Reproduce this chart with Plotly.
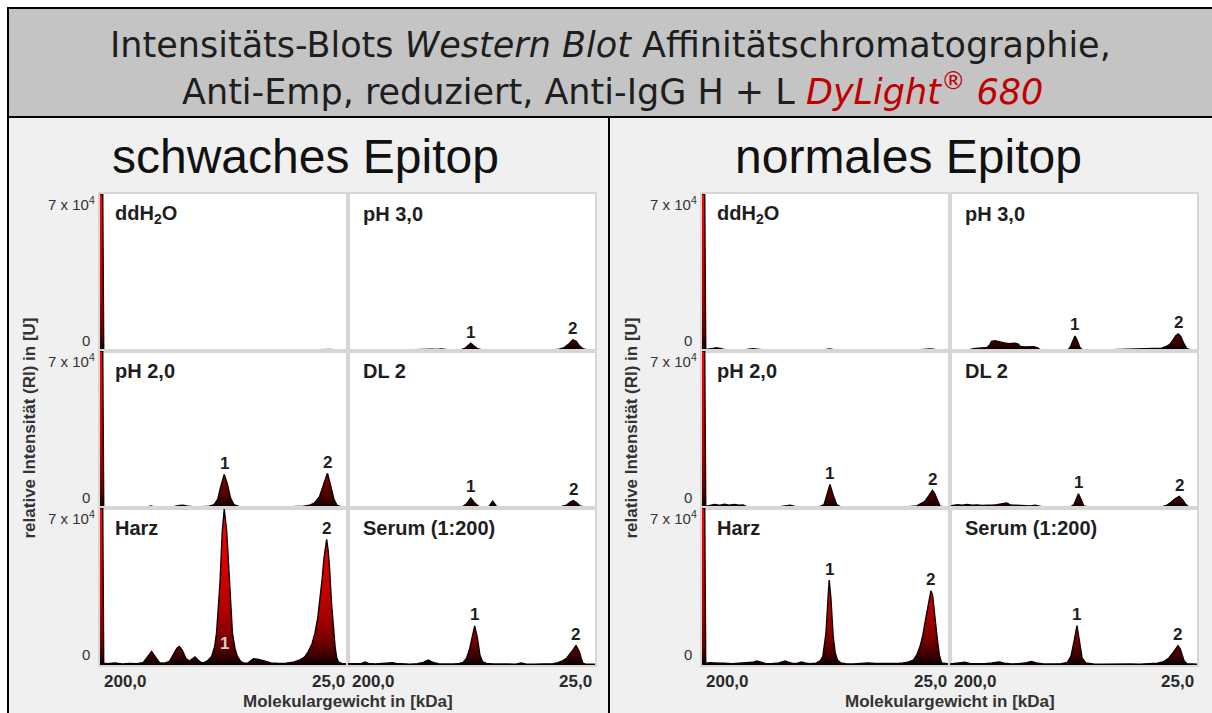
import plotly.graph_objects as go

# ---------------- text ----------------
TITLE_LINE_1 = "Intensitäts-Blots <i>Western Blot</i> Affinitätschromatographie,"
TITLE_LINE_2 = ("Anti-Emp, reduziert, Anti-IgG H + L "
                "<span style='color:#c00000'><i>DyLight<sup>®</sup> 680</i></span>")
PANEL_TITLES = ["schwaches Epitop", "normales Epitop"]
LANE_NAMES = ["ddH<sub>2</sub>O", "pH 3,0", "pH 2,0", "DL 2", "Harz", "Serum (1:200)"]
X_TICK_TEXT = ["200,0", "25,0"]
Y_TICK_TEXT = ["0", "7 x 10<sup>4</sup>"]
X_TITLE = "Molekulargewicht in [kDa]"
Y_TITLE = "relative Intensität (RI) in [U]"
Y_MAX = 70000

# ------- lane profiles: (position along lane in %, intensity in U) -------
SCHWACH_DDH2O = [(0, 70000), (1.1, 70000), (1.5, 500), (4, 400), (8, 500), (12, 300), (16, 450), (20, 500),
                 (24, 350), (28, 400), (32, 600), (36, 400), (40, 350), (45, 450), (50, 500), (55, 400),
                 (60, 350), (64, 450), (68, 400), (72, 350), (76, 500), (80, 400), (84, 450), (88, 500),
                 (90.5, 800), (93, 700), (96, 400), (100, 450)]

SCHWACH_PH30 = [(0, 400), (4, 500), (8, 350), (12, 400), (16, 300), (20, 450), (24, 400), (27, 600), (30, 800),
                (32, 1000), (34, 800), (36, 700), (38, 900), (40, 600), (43, 500), (46, 700), (47.5, 1300),
                (48.6, 2400), (49.7, 3500), (50.9, 2300), (52.2, 1200), (54, 600), (57, 500), (60, 400),
                (64, 350), (68, 400), (72, 350), (76, 300), (80, 400), (83, 500), (85.5, 800), (87.5, 1500),
                (89.5, 3200), (91.0, 5000), (92.3, 4400), (93.8, 2200), (95.3, 900), (97, 500), (100, 400)]

SCHWACH_PH20 = [(0, 70000), (1.1, 70000), (1.5, 600), (4, 500), (8, 400), (12, 500), (16, 400), (19, 500),
                (20.5, 900), (22, 500), (25, 400), (28, 500), (30, 700), (32, 1100), (33.5, 1200), (35, 900),
                (38, 500), (41, 600), (44, 800), (46, 1500), (47.5, 4000), (48.8, 10000), (50.1, 15000),
                (51.4, 10500), (52.6, 4500), (54, 1500), (56, 700), (59, 500), (63, 400), (67, 500), (71, 400),
                (75, 500), (79, 600), (82, 800), (84.5, 1200), (86.5, 2300), (88.5, 5000), (90.3, 10500),
                (91.7, 15500), (93, 10000), (94.3, 4000), (95.5, 1300), (97, 600), (100, 500)]

SCHWACH_DL2 = [(0, 400), (4, 600), (8, 500), (12, 400), (16, 600), (20, 400), (24, 500), (28, 400), (32, 300),
               (36, 400), (40, 500), (44, 400), (46.5, 600), (48.1, 2000), (49.7, 4500), (51.3, 2200), (53, 600),
               (55, 400), (57, 600), (58.6, 3000), (60.2, 600), (62, 400), (65, 300), (69, 400), (73, 350),
               (77, 400), (81, 300), (84, 400), (86.5, 700), (88.5, 1300), (90, 2600), (91.2, 3300),
               (92.5, 2400), (94, 900), (96, 400), (100, 400)]

SCHWACH_HARZ = [(0, 70000), (1.1, 70000), (1.5, 800), (3, 600), (6, 900), (9, 500), (12, 700), (15, 600),
                (17.5, 1200), (19.2, 3500), (20.8, 6000), (22.4, 3500), (24, 1000), (26, 800), (28, 1600),
                (29.5, 4500), (31, 7500), (32, 8300), (33.2, 6500), (34.6, 3000), (36, 1800), (37.3, 2800),
                (38.3, 3600), (39.5, 2200), (40.7, 1200), (41.7, 900), (43.3, 1800), (45, 3800), (46.2, 8000),
                (47, 14300), (47.8, 25000), (48.4, 36900), (49.3, 59500), (50.1, 69500), (51.1, 59500),
                (51.7, 47000), (52.2, 35200), (52.8, 24000), (53.4, 14300), (54.4, 7500), (55.4, 3800),
                (56.6, 1800), (57.8, 900), (59.5, 800), (61.8, 2800), (64, 2500), (66.5, 1600), (69, 900),
                (72, 700), (75, 800), (78, 1300), (80.6, 2300), (82.5, 3500), (84, 6000), (85.5, 9500),
                (86.7, 14300), (87.8, 21000), (88.7, 29400), (89.6, 38500), (90.3, 47400), (90.9, 53000),
                (91.4, 56000), (92, 51000), (92.5, 44300), (93.4, 27000), (94.2, 15000), (94.8, 8100),
                (95.4, 3500), (96.1, 1400), (97.5, 700), (100, 500)]

SCHWACH_SERUM = [(0, 600), (3, 500), (5.5, 700), (6.9, 1300), (8.3, 700), (11, 500), (14, 600), (16.5, 800),
                 (18, 1000), (19.5, 700), (22, 500), (25, 400), (28, 600), (30.5, 1200), (32.5, 2200),
                 (34.5, 1100), (37, 500), (40, 400), (43, 500), (45, 700), (46.7, 1200), (48, 3000), (49.2, 7000),
                 (50.2, 12000), (51.3, 17400), (52.4, 12000), (53.4, 4500), (54.5, 1500), (56, 700), (59, 500),
                 (62, 400), (65, 500), (68, 400), (70, 900), (72, 500), (75, 400), (78, 500), (81, 400),
                 (83, 600), (85, 1000), (86.8, 1800), (88.5, 3000), (90, 5000), (91.1, 6700), (92.3, 8800),
                 (93, 7500), (93.7, 5800), (94.4, 3000), (95.1, 800), (96, 500), (98, 400), (100, 400)]

NORMAL_DDH2O = [(0, 70000), (1.1, 70000), (1.5, 700), (3, 800), (4.5, 1100), (5.9, 1500), (7.5, 1100), (9, 700),
                (12, 600), (15, 500), (18, 700), (20.6, 1000), (23, 600), (26, 400), (30, 500), (34, 400),
                (38, 350), (42, 500), (46, 400), (49.5, 600), (51.6, 900), (53.5, 500), (57, 400), (61, 350),
                (65, 500), (69, 400), (73, 350), (77, 400), (81, 500), (85, 400), (88, 600), (90, 800),
                (92, 900), (94, 700), (97, 500), (100, 450)]

NORMAL_PH30 = [(0, 500), (3, 600), (6, 500), (8, 600), (9.4, 1000), (11, 1200), (13, 1500), (15, 1600),
               (16, 2500), (16.8, 4300), (18.2, 4600), (20, 4000), (22, 3600), (24, 3300), (26, 3500),
               (27.5, 3200), (28.5, 2000), (30, 1800), (32, 1700), (34, 1900), (35.5, 1400), (36.4, 600),
               (38, 400), (41, 500), (44, 400), (46.5, 500), (47.8, 700), (48.6, 1500), (49.6, 4500),
               (50.6, 6700), (51.6, 4500), (52.6, 1500), (53.6, 500), (55, 400), (58, 300), (62, 500), (66, 600),
               (70, 700), (74, 800), (78, 900), (82, 1000), (85.7, 1300), (87.5, 2000), (89, 3000), (90.3, 4800),
               (91.4, 6800), (92.4, 7600), (93.4, 6500), (94.6, 3500), (95.8, 1200), (97.5, 500), (100, 400)]

NORMAL_PH20 = [(0, 70000), (1.1, 70000), (1.5, 700), (3.2, 1000), (5, 1600), (7, 1200), (9, 1700), (11, 1300),
               (13, 1600), (15, 1200), (16.5, 1400), (18, 600), (22, 400), (26, 500), (30, 400), (33.5, 800),
               (35.5, 1200), (37.5, 700), (40, 400), (44, 500), (47, 400), (49.2, 1500), (50.4, 6000),
               (51.6, 10500), (52.8, 6000), (54.3, 1500), (56, 500), (60, 400), (64, 500), (68, 400), (72, 600),
               (76, 500), (80, 400), (83, 600), (86.6, 900), (88.5, 1900), (89.9, 3000), (91.5, 5500),
               (92.9, 7800), (93.8, 6500), (94.6, 4500), (95.3, 2500), (96, 800), (98, 500), (100, 400)]

NORMAL_DL2 = [(0, 400), (0.7, 1000), (3, 1500), (5, 1300), (7, 1600), (9, 1200), (11, 1400), (13, 1100),
              (15, 1300), (17, 1200), (19, 1500), (21, 1700), (22.9, 2200), (24.5, 1400), (26.5, 1200),
              (28.5, 1000), (30.5, 1100), (32.5, 900), (34.5, 1200), (36.4, 800), (38, 400), (42, 300),
              (46, 400), (48.8, 500), (50.2, 1500), (51.2, 4500), (52, 6300), (53, 4000), (54.2, 900), (56, 400),
              (60, 300), (64, 400), (68, 300), (72, 500), (76, 400), (80, 300), (84, 500), (86.2, 700),
              (87.7, 1200), (89.5, 2500), (91, 4000), (92.8, 5200), (94.3, 3500), (95.5, 1500), (96.5, 600),
              (98, 400), (100, 400)]

NORMAL_HARZ = [(0, 70000), (1.1, 70000), (1.5, 800), (3, 1000), (5, 900), (7, 700), (9, 800), (12, 600),
               (15, 700), (18, 800), (20.5, 1200), (22, 1800), (23.5, 1300), (25.5, 700), (28, 600), (31, 900),
               (32.3, 1400), (33.5, 1800), (34.8, 1300), (36.5, 700), (38.5, 800), (40.2, 1300), (41.5, 900),
               (43.5, 600), (46, 800), (47.6, 1800), (48.7, 3700), (50.0, 14300), (50.8, 29400), (51.3, 37900),
               (52.0, 29400), (52.9, 12800), (53.7, 5500), (54.6, 2200), (56, 900), (58, 600), (61, 500),
               (64, 700), (67, 900), (70, 700), (73, 600), (76, 800), (79, 700), (81, 900), (83, 1300),
               (85.2, 2200), (86.6, 4500), (87.9, 8200), (89.0, 13000), (89.9, 18800), (90.7, 23500),
               (91.3, 27800), (92.3, 33100), (93.0, 31000), (93.7, 24800), (94.3, 17500), (94.9, 11300),
               (95.7, 4500), (96.6, 900), (98, 600), (100, 500)]

NORMAL_SERUM = [(0, 500), (3, 700), (6, 1200), (8, 700), (11, 500), (14, 600), (17, 900), (20, 1400), (22, 800),
                (25, 500), (28, 600), (31, 1000), (33, 1600), (35, 900), (38, 500), (42, 400), (45, 600),
                (47.5, 1200), (49, 4000), (50.3, 11000), (51.4, 17600), (52.5, 10000), (53.5, 3000), (55, 900),
                (58, 500), (62, 400), (66, 500), (70, 700), (73, 500), (77, 400), (81, 500), (84, 800),
                (86.5, 1500), (88.5, 3000), (90.3, 5500), (91.3, 7200), (92.3, 8600), (93.2, 7200), (94, 4500),
                (94.8, 1800), (96, 600), (98, 400), (100, 400)]

# numbered bands: (lane index, number, approximate position in %)
SCHWACH_PEAKS = [(1, "1", 49.7), (1, "2", 91.0), (2, "1", 50.1), (2, "2", 91.7), (3, "1", 49.7), (3, "2", 91.2),
                 (4, "1", 50.1), (4, "2", 91.4), (5, "1", 51.3), (5, "2", 92.3)]
NORMAL_PEAKS = [(1, "1", 50.6), (1, "2", 92.4), (2, "1", 51.6), (2, "2", 92.9), (3, "1", 52.0), (3, "2", 92.8),
                (4, "1", 51.3), (4, "2", 92.3), (5, "1", 51.4), (5, "2", 92.3)]

PANELS = [
    ([SCHWACH_DDH2O, SCHWACH_PH30, SCHWACH_PH20, SCHWACH_DL2, SCHWACH_HARZ, SCHWACH_SERUM], SCHWACH_PEAKS),
    ([NORMAL_DDH2O, NORMAL_PH30, NORMAL_PH20, NORMAL_DL2, NORMAL_HARZ, NORMAL_SERUM], NORMAL_PEAKS),
]

# ---------------- page geometry (pixels) ----------------
W, H = 1212, 713
FRAME_L, FRAME_T, HEADER_B, SPLIT = 8, 8, 117, 609
COLS = [(100, 348, 595), (702, 950, 1197)]      # left, middle, right edge of each panel's grid
ROWS = [194, 351, 508, 665]                     # row edges, top to bottom
PANEL_CENTER = [305, 908]

ARIAL = "Liberation Sans, Arial, sans-serif"
WIDE = "DejaVu Sans, Verdana, sans-serif"
FILL_SCALE = [[0, "#000000"], [0.04, "#2c0000"], [0.1, "#560000"], [0.2, "#860000"], [0.35, "#b00000"],
              [0.55, "#d00000"], [0.8, "#ec0000"], [1, "#ff0000"]]


def fx(px):
    return px / W


def fy(py):
    return 1 - py / H


fig = go.Figure()
shapes, annotations = [], []


def rect(x0, y0, x1, y1, fill, line_w=0, line_c="black"):
    shapes.append(dict(type="rect", xref="paper", yref="paper", x0=fx(x0), x1=fx(x1), y0=fy(y1), y1=fy(y0),
                       fillcolor=fill, line=dict(width=line_w, color=line_c), layer="below"))


def text(t, x, y, size, color="#1e1e1e", family=ARIAL, xanchor="center", yanchor="middle", angle=0):
    annotations.append(dict(text=t, x=fx(x), y=fy(y), xref="paper", yref="paper", showarrow=False,
                            font=dict(size=size, color=color, family=family), xanchor=xanchor,
                            yanchor=yanchor, textangle=angle))


# frame, header and the two panels
rect(FRAME_L, FRAME_T, W + 4, HEADER_B, "#c4c4c4", 2)
rect(FRAME_L, HEADER_B, SPLIT, H + 4, "#f0f0f0", 2)
rect(SPLIT, HEADER_B, W + 4, H + 4, "#f0f0f0", 2)
for p in range(2):
    rect(COLS[p][0], ROWS[0], COLS[p][2], ROWS[3], "white")

text(TITLE_LINE_1, 610, 45, 35, family=WIDE)
text(TITLE_LINE_2, 612, 89, 35, family=WIDE)

axis_common = dict(showgrid=False, zeroline=False, showticklabels=False, ticks="", showline=True,
                   mirror=True, linecolor="#d6d6d6", linewidth=1.5, fixedrange=True)

n = 0
for p, (profiles, peaks) in enumerate(PANELS):
    text(PANEL_TITLES[p], PANEL_CENTER[p], 156, 48, color="#111111")
    left, mid, right = COLS[p]
    for r in range(3):
        for c in range(2):
            lane = r * 2 + c
            n += 1
            sfx = "" if n == 1 else str(n)
            xa, ya = f"x{sfx}", f"y{sfx}"
            x0, x1 = (left, mid) if c == 0 else (mid, right)
            fig.update_layout({
                f"xaxis{sfx}": dict(domain=[fx(x0), fx(x1)], range=[0, 100], anchor=ya, **axis_common),
                f"yaxis{sfx}": dict(domain=[fy(ROWS[r + 1]), fy(ROWS[r])], range=[0, Y_MAX], anchor=xa,
                                    **axis_common),
            })
            prof = profiles[lane]
            fig.add_trace(go.Scatter(
                x=[q[0] for q in prof], y=[q[1] for q in prof], xaxis=xa, yaxis=ya, mode="lines",
                line=dict(color="#120000", width=1.4), fill="tozeroy",
                fillgradient=dict(type="vertical", start=0, stop=Y_MAX, colorscale=FILL_SCALE),
                hoverinfo="skip", showlegend=False))
            # lane name
            annotations.append(dict(text=f"<b>{LANE_NAMES[lane]}</b>", xref=f"{xa} domain", yref=f"{ya} domain",
                                    x=0, y=1, xshift=13, yshift=-20, xanchor="left", yanchor="middle",
                                    showarrow=False, font=dict(size=20, color="#1e1e1e", family=ARIAL)))
            # numbered bands
            for (ln, num, pos) in peaks:
                if ln != lane:
                    continue
                near = [q for q in prof if abs(q[0] - pos) <= 1.5]
                px_, py_ = max(near, key=lambda q: q[1])
                if py_ > 0.9 * Y_MAX:
                    annotations.append(dict(text=f"<b>{num}</b>", xref=xa, yref=ya, x=px_, y=0, yshift=22,
                                            showarrow=False, font=dict(size=17, color="#dccccc", family=ARIAL)))
                else:
                    annotations.append(dict(text=f"<b>{num}</b>", xref=xa, yref=ya, x=px_, y=py_, yshift=11,
                                            showarrow=False, font=dict(size=17, color="#1e1e1e", family=ARIAL)))
        # y tick labels for this row
        text(Y_TICK_TEXT[1], left - 3, ROWS[r] + 9, 15, color="#333333", xanchor="right")
        text(Y_TICK_TEXT[0], left - 8, ROWS[r + 1] - 11, 15, color="#333333", xanchor="right")
    # x tick labels under the bottom row
    for (x0, x1) in [(left, mid), (mid, right)]:
        text(f"<b>{X_TICK_TEXT[0]}</b>", x0 + 2, 681, 17, color="#2a2a2a", xanchor="left")
        text(f"<b>{X_TICK_TEXT[1]}</b>", x1 - 1, 681, 17, color="#2a2a2a", xanchor="right")
    text(f"<b>{X_TITLE}</b>", (left + right) / 2, 701, 17, color="#333333")
    text(f"<b>{Y_TITLE}</b>", left - 71, (ROWS[0] + ROWS[3]) / 2 - 1, 17, color="#333333", angle=-90)

fig.update_layout(width=W, height=H, autosize=False, margin=dict(l=0, r=0, t=0, b=0, pad=0),
                  paper_bgcolor="white", plot_bgcolor="rgba(0,0,0,0)", shapes=shapes,
                  annotations=annotations, showlegend=False)

fig.write_html("out.html", config={"displayModeBar": False})
